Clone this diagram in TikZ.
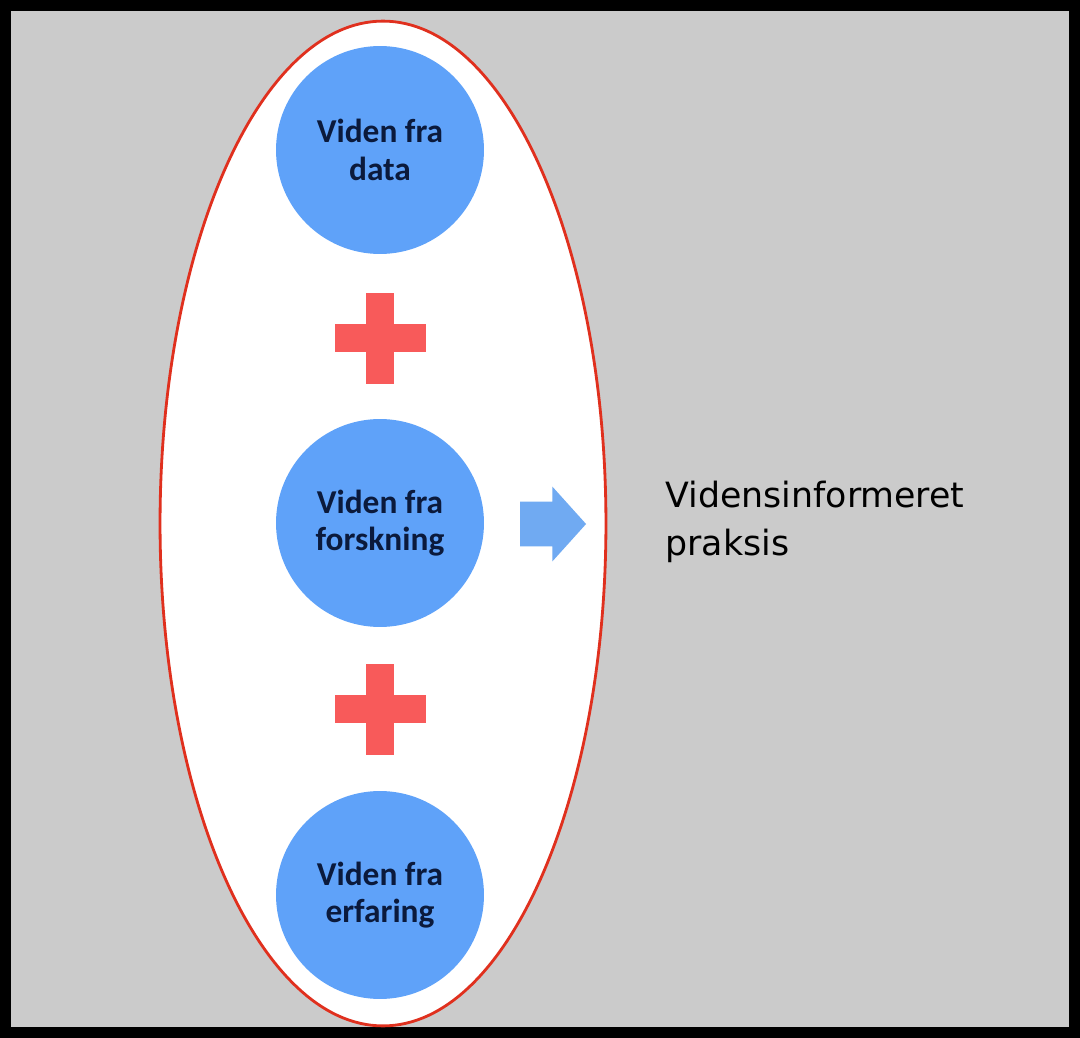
\documentclass[tikz,border=0pt]{standalone}
\usepackage{fontspec}
\setmainfont{Carlito}
\newfontfamily\dinfont{DejaVu Sans}
\usepackage{tikz}
\usetikzlibrary{arrows.meta,positioning,calc,shapes.geometric,shapes.arrows}
\usepackage{xcolor}
\definecolor{frame}{HTML}{000000}
\definecolor{canvas}{HTML}{CBCBCB}
\definecolor{ringred}{HTML}{E0301E}
\definecolor{bubble}{HTML}{5FA2F9}
\definecolor{navy}{HTML}{0B1A3C}
\definecolor{plusred}{HTML}{F85A5A}
\definecolor{arrowblue}{HTML}{70AAF2}
\tikzset{
  hull/.style={ellipse,draw=ringred,line width=1.6pt,fill=white,
    minimum width=8.92cm,minimum height=20.1cm,inner sep=0pt},
  source/.style={circle,fill=bubble,minimum size=4.16cm,inner sep=0pt,
    align=center,font=\fontsize{19}{21.5}\selectfont\bfseries,text=navy},
  plusbar/.style={fill=plusred},
  outcome/.style={single arrow,fill=arrowblue,minimum height=1.32cm,
    single arrow head extend=0.3cm,single arrow tip angle=96,
    inner xsep=0pt,inner ysep=0.44cm},
  result/.style={align=left,font=\dinfont\fontsize{19.8}{27}\selectfont,text=black,
    inner sep=0pt}
}

\begin{document}
\begin{tikzpicture}[x=0.02cm,y=-0.02cm]
        % frame and background
        \fill[frame] (0,0) rectangle (1080,1038);
        \fill[canvas] (11,11) rectangle (1069,1027);
        \useasboundingbox (0,0) rectangle (1080,1038);
        \node[hull] (h) at (383,523.5) {};
        \node[source] (d) at (380,150) {Viden fra\\data};
        \node[source] (f) at (380,523) {Viden fra\\forskning};
        \node[source] (e) at (380,895) {Viden fra\\erfaring};
        % plus signs between the sources
        \coordinate (p1) at (380,338);
        \coordinate (p2) at (380,709);
        \foreach \p in {p1,p2} {
          \fill[plusbar] ($(\p)+(-45.5,-14)$) rectangle ++(91,28);
          \fill[plusbar] ($(\p)+(-14,-45.5)$) rectangle ++(28,91);
        }
        \node[outcome] (a) at (543,524) {};
        \node[result,anchor=west] (r) at (665,522) {Vidensinformeret\\praksis};
      \end{tikzpicture}
\end{document}
